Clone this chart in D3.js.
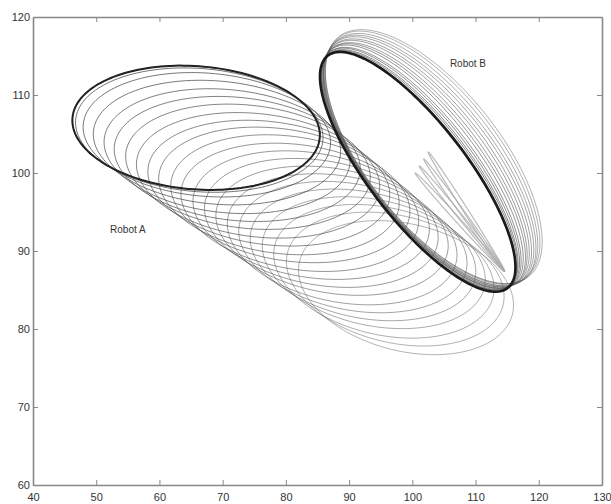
<!DOCTYPE html>
<html><head><meta charset="utf-8">
<script src="https://cdn.jsdelivr.net/npm/d3@7"></script>
<style>body{margin:0;background:#fff}</style>
</head><body><svg id="c" width="611" height="504"></svg>
<script>
// Axis ticks
const xTicks = [40, 50, 60, 70, 80, 90, 100, 110, 120, 130];
const yTicks = [60, 70, 80, 90, 100, 110, 120];

// Robot A loops (earliest -> final): centre, semi-axes, rotation (deg)
const aCx  = [99.0, 97.3, 95.5, 93.9, 92.2, 90.6, 88.9, 87.3, 85.6, 84.0, 82.2, 80.7, 78.9, 77.3, 75.6, 74.0, 72.3, 70.7, 69.1, 67.5, 66.3, 65.8];
const aCy  = [85.3, 86.4, 87.4, 88.5, 89.5, 90.5, 91.5, 92.6, 93.6, 94.6, 95.6, 96.7, 97.7, 98.7, 99.7, 100.8, 101.8, 102.8, 103.9, 104.9, 105.5, 105.8];
const aRx  = [17.2, 17.4, 17.6, 17.8, 18.0, 18.2, 18.3, 18.5, 18.6, 18.8, 18.9, 19.0, 19.1, 19.2, 19.3, 19.4, 19.5, 19.5, 19.6, 19.6, 19.6, 19.6];
const aRy  = [8.2, 8.2, 8.2, 8.1, 8.1, 8.1, 8.1, 8.0, 8.0, 8.0, 8.0, 8.0, 8.0, 7.9, 7.9, 7.9, 7.9, 7.9, 7.9, 7.9, 7.9, 7.9];
const aRot = [-9.8, -9.5, -9.2, -8.8, -8.5, -8.1, -7.8, -7.4, -7.1, -6.7, -6.4, -6.0, -5.7, -5.3, -5.0, -4.7, -4.4, -4.1, -3.8, -3.5, -3.4, -3.3];

// Robot B loops (earliest -> final)
const bCx  = [103.4, 103.2, 103.0, 102.8, 102.6, 102.4, 102.2, 102.0, 101.8, 101.6, 101.4, 101.2, 101.1, 101.0, 100.9, 100.85];
const bCy  = [102.1, 102.0, 101.8, 101.6, 101.5, 101.3, 101.2, 101.0, 100.9, 100.8, 100.6, 100.5, 100.4, 100.3, 100.2, 100.15];
const bRx  = [21.6, 21.5, 21.4, 21.4, 21.3, 21.2, 21.1, 21.0, 21.0, 20.9, 20.8, 20.8, 20.7, 20.7, 20.65, 20.65];
const bRy  = [9.6, 9.4, 9.2, 9.0, 8.8, 8.6, 8.4, 8.2, 8.0, 7.8, 7.6, 7.5, 7.3, 7.2, 7.1, 7.0];
const bRot = [-42.8, -43.0, -43.1, -43.3, -43.4, -43.6, -43.8, -43.9, -44.0, -44.2, -44.3, -44.4, -44.5, -44.6, -44.7, -44.8];

// Robot B start-up strokes (thin, from the start point down to the loop)
const bsCx  = [108.55, 108.2, 107.85, 107.5];
const bsCy  = [95.05, 94.6, 94.15, 93.7];
const bsRx  = [9.75, 9.63, 9.55, 9.45];
const bsRy  = [0.35, 0.35, 0.35, 0.35];
const bsRot = [-51.7, -48.4, -45.0, -41.8];

const labelsText = ["Robot A", "Robot B"];

const W = 611, H = 504;
const m = {left: 33, right: 9, top: 17, bottom: 19};
const svg = d3.select("#c");
const x = d3.scaleLinear().domain([40, 130]).range([m.left, W - m.right]);
const y = d3.scaleLinear().domain([60, 120]).range([H - m.bottom, m.top]);

function ellipsePts(cx, cy, rx, ry, rotDeg) {
  const th = rotDeg * Math.PI / 180, n = 160, pts = [];
  for (let i = 0; i < n; i++) {
    const t = 2 * Math.PI * i / n;
    const u = rx * Math.cos(t), v = ry * Math.sin(t);
    pts.push([cx + u * Math.cos(th) - v * Math.sin(th), cy + u * Math.sin(th) + v * Math.cos(th)]);
  }
  return pts;
}
const line = d3.line().x(d => x(d[0])).y(d => y(d[1])).curve(d3.curveLinearClosed);

const gA = svg.append("g");
aCx.forEach((cx, i) => {
  gA.append("path").attr("d", line(ellipsePts(cx, aCy[i], aRx[i], aRy[i], aRot[i])))
    .attr("fill", "none").attr("stroke", "#444").attr("stroke-width", 0.9)
    .attr("stroke-opacity", 0.45 + 0.4 * i / (aCx.length - 1));
});
const la = aCx.length - 1;
gA.append("path").attr("d", line(ellipsePts(aCx[la], aCy[la], aRx[la], aRy[la], aRot[la])))
  .attr("fill", "none").attr("stroke", "#222").attr("stroke-width", 2);

const gB = svg.append("g");
bsCx.forEach((cx, i) => {
  gB.append("path").attr("d", line(ellipsePts(cx, bsCy[i], bsRx[i], bsRy[i], bsRot[i])))
    .attr("fill", "none").attr("stroke", "#aaa").attr("stroke-width", 1.2).attr("stroke-opacity", 0.8);
});
bCx.forEach((cx, i) => {
  gB.append("path").attr("d", line(ellipsePts(cx, bCy[i], bRx[i], bRy[i], bRot[i])))
    .attr("fill", "none").attr("stroke", "#555").attr("stroke-width", 0.9)
    .attr("stroke-opacity", 0.5 + 0.35 * i / (bCx.length - 1));
});
const lb = bCx.length - 1;
gB.append("path").attr("d", line(ellipsePts(bCx[lb], bCy[lb], bRx[lb], bRy[lb], bRot[lb])))
  .attr("fill", "none").attr("stroke", "#1a1a1a").attr("stroke-width", 2.6);

// Labels
svg.append("text").attr("x", x(55.0)).attr("y", y(92.8)).attr("dy", "0.35em")
  .attr("text-anchor", "middle").attr("font-family", "Liberation Sans, Arial, sans-serif")
  .attr("font-size", 10).attr("fill", "#333").text(labelsText[0]);
svg.append("text").attr("x", x(108.8)).attr("y", y(114.1)).attr("dy", "0.35em")
  .attr("text-anchor", "middle").attr("font-family", "Liberation Sans, Arial, sans-serif")
  .attr("font-size", 10).attr("fill", "#333").text(labelsText[1]);

// Axes (MATLAB-style box with inward ticks)
const axCol = "#888";
function styleAxis(g, showText) {
  g.selectAll(".domain").attr("stroke", axCol).attr("stroke-width", 1.6);
  g.selectAll(".tick line").attr("stroke", axCol).attr("stroke-width", 1);
  g.selectAll("text").attr("font-family", "Liberation Sans, Arial, sans-serif")
    .attr("font-size", 11).attr("fill", "#333");
  if (!showText) g.selectAll("text").remove();
}
const fmt = d3.format("d");
svg.append("g").attr("transform", `translate(0,${H - m.bottom})`)
  .call(d3.axisBottom(x).tickValues(xTicks).tickFormat(fmt).tickSizeInner(-5).tickSizeOuter(0).tickPadding(8))
  .call(g => styleAxis(g, true));
svg.append("g").attr("transform", `translate(0,${m.top})`)
  .call(d3.axisTop(x).tickValues(xTicks).tickSizeInner(-5).tickSizeOuter(0))
  .call(g => styleAxis(g, false));
svg.append("g").attr("transform", `translate(${m.left},0)`)
  .call(d3.axisLeft(y).tickValues(yTicks).tickFormat(fmt).tickSizeInner(-5).tickSizeOuter(0).tickPadding(3))
  .call(g => styleAxis(g, true));
svg.append("g").attr("transform", `translate(${W - m.right},0)`)
  .call(d3.axisRight(y).tickValues(yTicks).tickSizeInner(-5).tickSizeOuter(0))
  .call(g => styleAxis(g, false));
</script>
</body></html>
